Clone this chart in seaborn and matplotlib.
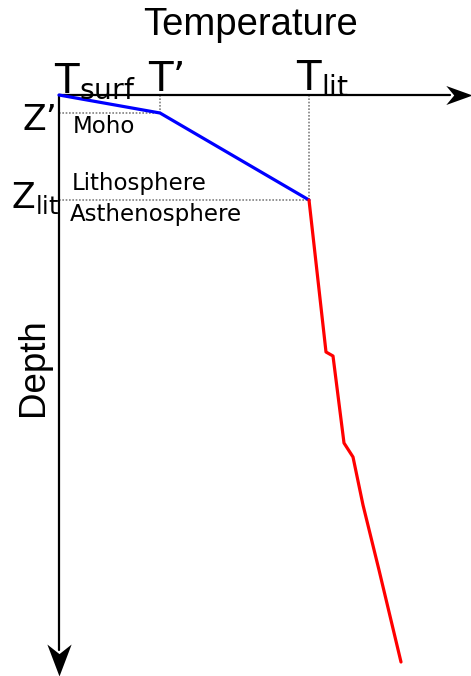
import matplotlib.pyplot as plt
import seaborn as sns
from matplotlib.path import Path

# --- Data (schematic units) ---
lith_temp = [59, 160, 309]
lith_depth = [95, 113, 200]

asth_temp = [309, 326, 333, 344, 353, 363, 379, 401]
asth_depth = [200, 352, 356, 443, 457, 505, 570, 662]

moho_depth = 113
lit_depth = 200
t_prime = 160
t_lit = 309
t_surf = 59
surface = 95

sns.set_style("white")
plt.rcParams['font.family'] = ['DejaVu Sans']
plt.rcParams['mathtext.fontset'] = 'dejavusans'

fig = plt.figure(figsize=(4.71, 6.76), dpi=100)
ax = fig.add_axes([0, 0, 1, 1])
ax.set_xlim(0, 471)
ax.set_ylim(676, 0)
ax.axis('off')

# reference dotted lines
dot = dict(color='grey', lw=1.2, ls=(0, (1, 1)))
ax.plot([t_surf, t_prime], [moho_depth, moho_depth], **dot)
ax.plot([t_prime, t_prime], [surface, moho_depth], **dot)
ax.plot([t_surf, t_lit], [lit_depth, lit_depth], **dot)
ax.plot([t_lit, t_lit], [surface, lit_depth], **dot)

# axes with stealth-like arrow heads
ax.plot([t_surf, 450], [surface, surface], color='black', lw=1.6)
ax.plot([t_surf, t_surf], [surface, 650], color='black', lw=1.6)
head_r = Path([(0.5, 0), (-0.5, 0.36), (-0.2, 0), (-0.5, -0.36), (0.5, 0)],
              [Path.MOVETO, Path.LINETO, Path.LINETO, Path.LINETO, Path.CLOSEPOLY])
head_d = Path([(0, -0.5), (0.38, 0.5), (0, 0.2), (-0.38, 0.5), (0, -0.5)],
              [Path.MOVETO, Path.LINETO, Path.LINETO, Path.LINETO, Path.CLOSEPOLY])
ax.plot([459], [surface], marker=head_r, ms=19, color='black', mew=0)
ax.plot([t_surf], [660], marker=head_d, ms=23, color='black', mew=0)

# geotherm
sns.lineplot(x=lith_temp, y=lith_depth, sort=False, color='blue', lw=2.3, ax=ax)
sns.lineplot(x=asth_temp, y=asth_depth, sort=False, color='red', lw=2.3, ax=ax)

# labels
txt = dict(color='black')
ax.text(251, 35, 'Temperature', fontsize=27.5, family='Liberation Sans',
        ha='center', va='baseline', **txt)
ax.text(16, 367, 'Depth', fontsize=26.5, family='Liberation Sans', rotation=90,
        ha='left', va='center', **txt)
ax.text(54, 92, r'$\mathrm{T_{surf}}$', fontsize=29, ha='left', va='baseline', **txt)
ax.text(148, 91, "T’", fontsize=29, ha='left', va='baseline', **txt)
ax.text(296, 90, r'$\mathrm{T_{lit}}$', fontsize=29, ha='left', va='baseline', **txt)
ax.text(22, 130, "Z’", fontsize=25, ha='left', va='baseline', **txt)
ax.text(11, 208, r'$\mathrm{Z_{lit}}$', fontsize=25, ha='left', va='baseline', **txt)
ax.text(73, 133, 'Moho', fontsize=16.5, ha='left', va='baseline', **txt)
ax.text(72, 190, 'Lithosphere', fontsize=16.5, ha='left', va='baseline', **txt)
ax.text(70, 221, 'Asthenosphere', fontsize=16.5, ha='left', va='baseline', **txt)

plt.savefig('out.png', dpi=100)
